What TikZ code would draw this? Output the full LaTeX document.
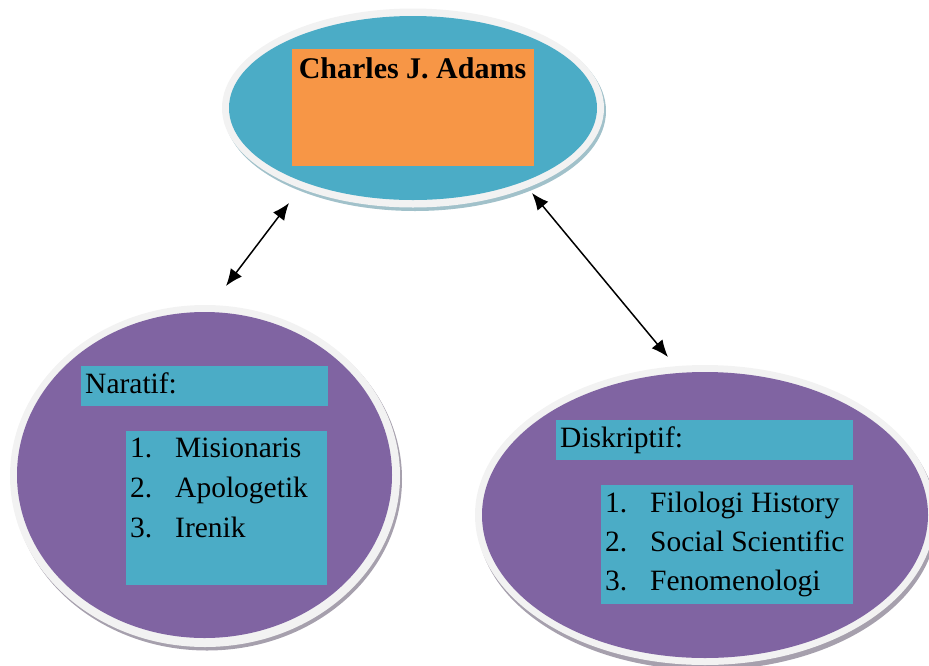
\documentclass[tikz,border=0pt]{standalone}
\usepackage{fontspec}
\setmainfont{Liberation Serif}
\usetikzlibrary{shapes.geometric,arrows.meta}
\definecolor{cblue}{HTML}{4BACC6}
\definecolor{cpurple}{HTML}{8064A2}
\definecolor{corange}{HTML}{F79646}
\definecolor{cring}{HTML}{F2F2F2}
\tikzset{
  ringshadow/.style={ellipse, draw=none, fill=#1, inner sep=0pt},
  ringrim/.style={ellipse, draw=none, fill=cring, inner sep=0pt},
  bubble/.style={ellipse, draw=none, fill=#1, inner sep=0pt},
  panel/.style={rectangle, draw=none, fill=#1, inner sep=0pt, anchor=north west},
  txt/.style={anchor=base west, inner sep=0pt, font=\fontsize{29.5}{33}\selectfont},
  biarrow/.style={{Latex[length=17pt,width=14pt]}-{Latex[length=17pt,width=14pt]}, line width=1.5pt, shorten <=0pt, shorten >=0pt}
}
\begin{document}
\begin{tikzpicture}[x=1pt,y=-1pt]
\useasboundingbox (0,0) rectangle (929,665);
% top ellipse
\node[ringshadow=gray!45!cblue!60, minimum width=382pt, minimum height=200pt] (topsh) at (415,111) {};
\node[ringrim, minimum width=382pt, minimum height=199pt] (toprim) at (413,108) {};
\node[bubble=cblue, minimum width=368pt, minimum height=184pt] (top) at (413,108) {};
\node[panel=corange, minimum width=242pt, minimum height=117pt] (title) at (292,49) {};
\node[anchor=base, inner sep=0pt, font=\fontsize{30}{33}\selectfont\bfseries] (titletxt) at (412.5,78) {Charles J. Adams};
% left ellipse
\node[ringshadow=gray!70!cpurple!70, minimum width=390pt, minimum height=343pt] (leftsh) at (207,479) {};
\node[ringrim, minimum width=390pt, minimum height=342pt] (leftrim) at (205,476) {};
\node[bubble=cpurple, minimum width=375pt, minimum height=326pt] (left) at (204.5,475) {};
\node[panel=cblue, minimum width=247pt, minimum height=40pt] (nhead) at (81,366) {};
\node[txt] (nheadtxt) at (85,393) {Naratif:};
\node[panel=cblue, minimum width=201pt, minimum height=154pt] (nlist) at (126,431) {};
\node[txt] (n1) at (130,457) {1.};
\node[txt] (n1t) at (175,457) {Misionaris};
\node[txt] (n2) at (130,497) {2.};
\node[txt] (n2t) at (175,497) {Apologetik};
\node[txt] (n3) at (130,537) {3.};
\node[txt] (n3t) at (175,537) {Irenik};
% right ellipse
\node[ringshadow=gray!70!cpurple!70, minimum width=460pt, minimum height=302pt] (rightsh) at (707,519) {};
\node[ringrim, minimum width=460pt, minimum height=300pt] (rightrim) at (705,515) {};
\node[bubble=cpurple, minimum width=446pt, minimum height=286pt] (right) at (705,515) {};
\node[panel=cblue, minimum width=297pt, minimum height=40pt] (dhead) at (556,420) {};
\node[txt] (dheadtxt) at (560,447) {Diskriptif:};
\node[panel=cblue, minimum width=252pt, minimum height=119pt] (dlist) at (601,485) {};
\node[txt] (d1) at (605,512) {1.};
\node[txt] (d1t) at (650,512) {Filologi History};
\node[txt] (d2) at (605,551) {2.};
\node[txt] (d2t) at (650,551) {Social Scientific};
\node[txt] (d3) at (605,590) {3.};
\node[txt] (d3t) at (650,590) {Fenomenologi};
% arrows
\coordinate (la) at (289,203);
\coordinate (lb) at (226,286);
\coordinate (ra) at (532,193);
\coordinate (rb) at (668,357);
\draw[biarrow] (la) -- (lb);
\draw[biarrow] (ra) -- (rb);
\end{tikzpicture}
\end{document}
